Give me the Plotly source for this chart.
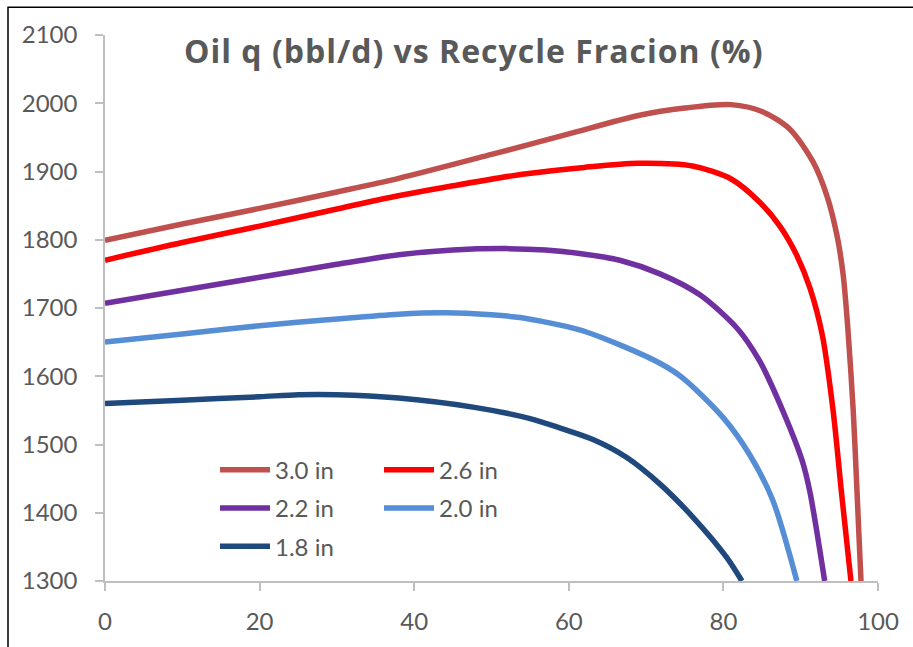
import plotly.graph_objects as go

# Oil rate (bbl/d) against recycle fraction (%) for several tubing sizes
x_30 = [0, 10, 20, 30, 38, 50, 60, 69, 75, 81, 85, 88.6, 91.6, 93.4, 94.7, 95.5, 96.1, 96.8, 97.3, 97.8]
q_30 = [1799, 1823, 1846, 1870, 1890, 1925, 1955, 1982, 1993, 1998, 1988, 1962, 1914, 1864, 1806, 1748, 1670, 1549, 1427, 1300]

x_26 = [0, 10, 20, 30, 36, 45, 54, 62, 69, 76, 81, 84.7, 87.3, 89.5, 91.2, 92.8, 94.2, 95.3, 96.5]
q_26 = [1770, 1796, 1820, 1845, 1860, 1879, 1896, 1906, 1912, 1908, 1889, 1855, 1820, 1777, 1729, 1660, 1549, 1427, 1300]

x_22 = [0, 10, 20, 30, 38, 45, 52, 57, 61.4, 66.6, 71.8, 77, 81.8, 84.7, 87.7, 90.2, 91.2, 93.1]
q_22 = [1707, 1726, 1745, 1764, 1778, 1785, 1787, 1785, 1780, 1770, 1750, 1719, 1670, 1622, 1549, 1476, 1430, 1300]

x_20 = [0, 10, 20, 30, 38, 44, 50, 53.7, 61.4, 66.6, 71.8, 74.8, 80, 83.4, 86.4, 89.5]
q_20 = [1650, 1662, 1674, 1684, 1691, 1693, 1690, 1686, 1668, 1646, 1619, 1597, 1539, 1485, 1418, 1300]

x_18 = [0, 10, 20, 25, 30, 38, 48, 55, 58.9, 63.2, 67.5, 71.8, 76.1, 80.4, 82.4]
q_18 = [1560, 1565, 1570, 1573, 1573, 1568, 1554, 1538, 1524, 1507, 1481, 1442, 1393, 1335, 1300]

series_names = ["3.0 in", "2.6 in", "2.2 in", "2.0 in", "1.8 in"]
series_x = [x_30, x_26, x_22, x_20, x_18]
series_q = [q_30, q_26, q_22, q_20, q_18]
series_colors = ["#C0504D", "#FF0000", "#7030A0", "#558ED5", "#1F497D"]
series_legend = ["legend", "legend2", "legend", "legend2", "legend"]

x_ticks = [0, 20, 40, 60, 80, 100]
y_ticks = [1300, 1400, 1500, 1600, 1700, 1800, 1900, 2000, 2100]

TEXT = "#595959"
AXIS = "#BFBFBF"
FONT = "Lato"

fig = go.Figure()
for name, xs, qs, col, lg in zip(series_names, series_x, series_q, series_colors, series_legend):
    fig.add_trace(go.Scatter(
        x=xs, y=qs, name=name, mode="lines",
        line=dict(color=col, width=5.5, shape="spline", smoothing=0.8),
        legend=lg, legendgroup=name,
    ))

W, H = 913, 647
L, R, T, B = 105, 35, 35, 63
pw, ph = W - L - R, H - T - B

def px_x(p):
    return (p - L) / pw

def px_y(p):
    return (H - B - p) / ph

legend_common = dict(
    font=dict(family=FONT, size=24, color=TEXT),
    bgcolor="rgba(0,0,0,0)", borderwidth=0,
    xanchor="left", yanchor="top", tracegroupgap=4,
    itemwidth=50,
)

fig.update_layout(
    width=W, height=H,
    margin=dict(l=L, r=R, t=T, b=B),
    paper_bgcolor="white", plot_bgcolor="white",
    font=dict(family=FONT, size=24, color=TEXT),
    xaxis=dict(
        range=[0, 100], tickvals=x_ticks, ticks="outside", ticklen=8,
        tickcolor=AXIS, tickwidth=1.5, showline=True, linecolor=AXIS, linewidth=1.5,
        showgrid=False, zeroline=False, ticklabelstandoff=10,
        tickfont=dict(family=FONT, size=24, color=TEXT),
    ),
    yaxis=dict(
        range=[1300, 2100], tickvals=y_ticks, ticks="outside", ticklen=8,
        tickcolor=AXIS, tickwidth=1.5, showline=True, linecolor=AXIS, linewidth=1.5,
        showgrid=False, zeroline=False, ticklabelstandoff=13,
        tickfont=dict(family=FONT, size=24, color=TEXT),
    ),
    # companion axes that carry the inner half of each crossing tick
    xaxis2=dict(
        overlaying="x", matches="x", anchor="y", side="bottom",
        tickvals=x_ticks, ticks="inside", ticklen=8, tickcolor=AXIS, tickwidth=1.5,
        showticklabels=False, showline=False, showgrid=False, zeroline=False,
    ),
    yaxis2=dict(
        overlaying="y", matches="y", anchor="x", side="left",
        tickvals=y_ticks, ticks="inside", ticklen=8, tickcolor=AXIS, tickwidth=1.5,
        showticklabels=False, showline=False, showgrid=False, zeroline=False,
    ),
    legend=dict(x=px_x(215), y=px_y(450), **legend_common),
    legend2=dict(x=px_x(379), y=px_y(450), **legend_common),
    annotations=[dict(
        text='<span style="letter-spacing:1px"><b>Oil q (bbl/d) vs Recycle Fracion (%)</b></span>',
        xref="paper", yref="paper", x=px_x(473), y=px_y(51),
        xanchor="center", yanchor="middle", showarrow=False,
        font=dict(family="Open Sans", size=32, color=TEXT),
    )],
    shapes=[dict(
        type="rect", xref="paper", yref="paper",
        x0=px_x(8), x1=px_x(925), y0=px_y(7), y1=px_y(660),
        line=dict(color="black", width=1.5), fillcolor="rgba(0,0,0,0)", layer="above",
    )],
)

fig.write_html("out.html")
